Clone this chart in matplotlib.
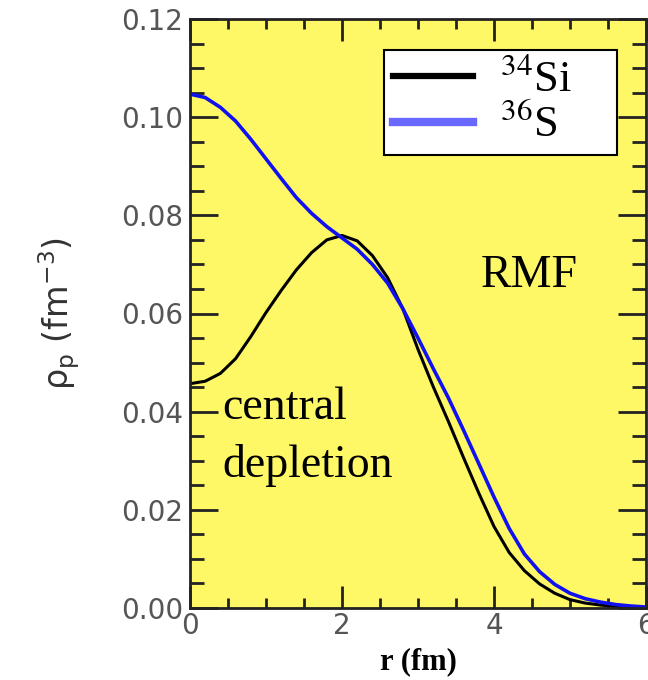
import matplotlib
matplotlib.use("Agg")
import matplotlib.pyplot as plt
from matplotlib.lines import Line2D
from matplotlib.font_manager import FontProperties
from matplotlib.ticker import MultipleLocator, FormatStrFormatter

# radial grid (fm) and proton densities
r = [0.0, 0.2, 0.4, 0.6, 0.8, 1.0, 1.2, 1.4, 1.6, 1.8, 2.0, 2.2, 2.4, 2.6, 2.8, 3.0,
     3.2, 3.4, 3.6, 3.8, 4.0, 4.2, 4.4, 4.6, 4.8, 5.0, 5.2, 5.4, 5.6, 5.8, 6.0]
rho_si34 = [0.0457, 0.0462, 0.0478, 0.0508, 0.0553, 0.0602, 0.0647, 0.0689, 0.0724,
            0.0750, 0.0759, 0.0748, 0.0718, 0.0673, 0.0610, 0.0527, 0.0451, 0.0380,
            0.0306, 0.0234, 0.0166, 0.0113, 0.0076, 0.0049, 0.0030, 0.0017, 0.0010,
            0.0006, 0.0003, 0.0002, 0.0001]
rho_s36 = [0.1047, 0.1040, 0.1020, 0.0992, 0.0955, 0.0915, 0.0875, 0.0836, 0.0804,
           0.0777, 0.0754, 0.0731, 0.0700, 0.0662, 0.0610, 0.0550, 0.0488, 0.0428,
           0.0362, 0.0294, 0.0226, 0.0162, 0.0110, 0.0074, 0.0048, 0.0030, 0.0019,
           0.0012, 0.0007, 0.0004, 0.0002]
labels = [r'$^{34}$Si', r'$^{36}$S']

fig = plt.figure(figsize=(6.48, 6.8), dpi=100)
ax = fig.add_axes([190 / 648, 1 - 608 / 680, 456 / 648, 589 / 680])
ax.set_facecolor('#FFF866')

ax.plot(r, rho_si34, color='black', lw=2.2, solid_joinstyle='round')
ax.plot(r, rho_s36, color='#1010F0', lw=2.6, solid_joinstyle='round')

ax.set_xlim(0, 6)
ax.set_ylim(0, 0.12)
ax.xaxis.set_major_locator(MultipleLocator(2))
ax.xaxis.set_minor_locator(MultipleLocator(0.5))
ax.yaxis.set_major_locator(MultipleLocator(0.02))
ax.yaxis.set_minor_locator(MultipleLocator(0.005))
ax.yaxis.set_major_formatter(FormatStrFormatter('%.2f'))

ax.tick_params(axis='both', which='both', direction='in', top=True, right=True,
               width=2, color='#222222', labelcolor='#555555', labelsize=20)
ax.tick_params(axis='y', which='major', length=20, pad=5)
ax.tick_params(axis='y', which='minor', length=10)
ax.tick_params(axis='x', which='major', length=16, pad=3)
ax.tick_params(axis='x', which='minor', length=7.5)
for s in ax.spines.values():
    s.set_linewidth(2)
    s.set_color('#222222')

ax.set_xlabel('r (fm)', family='Liberation Serif', fontweight='bold', fontsize=22,
              labelpad=5)
ax.set_ylabel(r'ρ$_{\mathrm{p}}$ (fm$^{-3}$)', fontsize=24, color='#333333',
              labelpad=28)

ax.text(0.42, 0.0267, 'central\ndepletion', family='Liberation Serif', fontsize=33,
        linespacing=1.45, va='baseline')
ax.text(3.82, 0.0654, 'RMF', family='Liberation Serif', fontsize=33, va='baseline')

handles = [Line2D([], [], color='black', lw=4.5),
           Line2D([], [], color='#6868FF', lw=6)]
leg = ax.legend(handles, labels, loc='upper left',
                bbox_to_anchor=(0.426, 0.764, 0.511, 0.183), mode='expand',
                prop=FontProperties(family='Liberation Serif', size=32, math_fontfamily='stix'),
                frameon=True, fancybox=False, framealpha=1, edgecolor='black',
                handlelength=1.8, handletextpad=0.6, borderpad=0.2, labelspacing=0.1,
                borderaxespad=0)
leg.get_frame().set_linewidth(1.5)

fig.savefig('out.png', dpi=100)
